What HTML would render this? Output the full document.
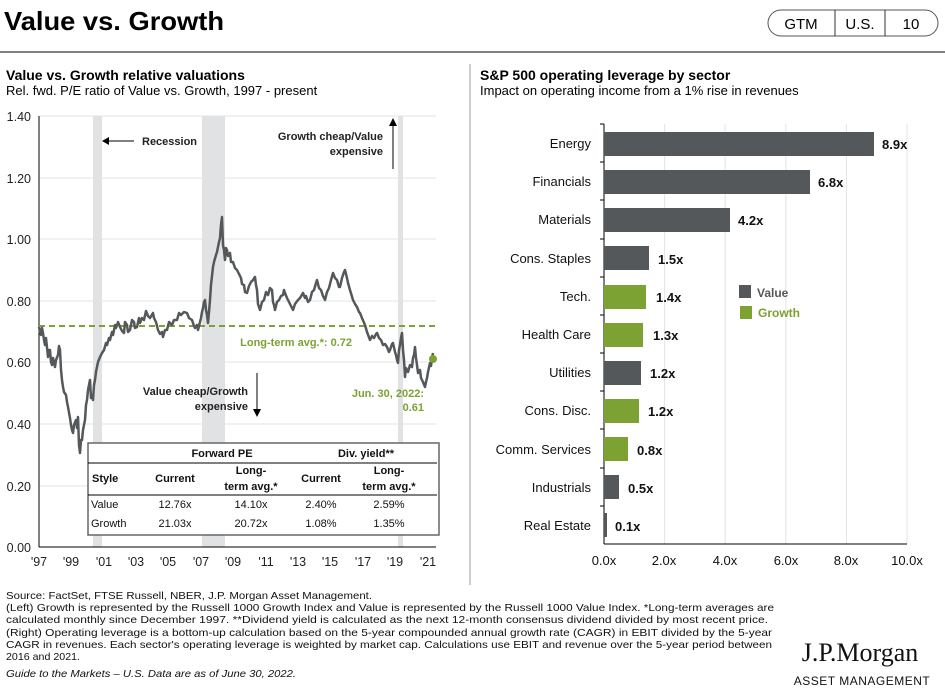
<!DOCTYPE html>
<html><head><meta charset="utf-8"><style>
body{margin:0;background:#fff;}
svg{display:block;font-family:"Liberation Sans",Arial,sans-serif;}
</style></head><body>
<svg width="945" height="692" viewBox="0 0 945 692" xmlns="http://www.w3.org/2000/svg">
<text x="4" y="30" font-size="26" font-weight="bold" fill="#000" textLength="220" lengthAdjust="spacingAndGlyphs">Value vs. Growth</text>
<rect x="768" y="10" width="170" height="26" rx="13" fill="#fff" stroke="#555" stroke-width="1"/>
<line x1="835" y1="10" x2="835" y2="36" stroke="#333"/>
<line x1="885" y1="10" x2="885" y2="36" stroke="#333"/>
<text x="801" y="29" font-size="15" text-anchor="middle">GTM</text>
<text x="860" y="29" font-size="15" text-anchor="middle">U.S.</text>
<text x="911" y="29" font-size="15" text-anchor="middle">10</text>
<line x1="0" y1="52" x2="945" y2="52" stroke="#000" stroke-width="1"/>
<line x1="470" y1="64" x2="470" y2="585" stroke="#999" stroke-width="1"/>

<!-- Left chart -->
<text x="6" y="80" font-size="14" font-weight="bold">Value vs. Growth relative valuations</text>
<text x="6" y="95" font-size="13">Rel. fwd. P/E ratio of Value vs. Growth, 1997 - present</text>
<g stroke="#e3e3e3" stroke-width="1">
<line x1="39" y1="116" x2="436" y2="116"/><line x1="39" y1="178" x2="436" y2="178"/>
<line x1="39" y1="239" x2="436" y2="239"/><line x1="39" y1="301" x2="436" y2="301"/>
<line x1="39" y1="362" x2="436" y2="362"/><line x1="39" y1="424" x2="436" y2="424"/>
<line x1="39" y1="486" x2="436" y2="486"/>
</g>
<rect x="93" y="116" width="9" height="431" fill="#e1e2e4"/>
<rect x="202" y="116" width="23" height="431" fill="#e1e2e4"/>
<rect x="398" y="116" width="5" height="431" fill="#e1e2e4"/>
<line x1="39" y1="116" x2="39" y2="547" stroke="#000"/>
<line x1="39" y1="547" x2="436" y2="547" stroke="#000"/>
<g font-size="12.5" fill="#222" text-anchor="end">
<text x="31" y="121">1.40</text><text x="31" y="183">1.20</text><text x="31" y="244">1.00</text>
<text x="31" y="306">0.80</text><text x="31" y="367">0.60</text><text x="31" y="429">0.40</text>
<text x="31" y="491">0.20</text><text x="31" y="552">0.00</text>
</g>
<g font-size="12.5" fill="#222" text-anchor="middle">
<text x="39" y="566">'97</text><text x="71" y="566">'99</text><text x="104" y="566">'01</text>
<text x="136" y="566">'03</text><text x="168" y="566">'05</text><text x="201" y="566">'07</text>
<text x="233" y="566">'09</text><text x="266" y="566">'11</text><text x="298" y="566">'13</text>
<text x="330" y="566">'15</text><text x="363" y="566">'17</text><text x="395" y="566">'19</text>
<text x="428" y="566">'21</text>
</g>
<line x1="39" y1="326" x2="436" y2="326" stroke="#7ba232" stroke-width="2" stroke-dasharray="6,4"/>
<polyline fill="none" stroke="#55585b" stroke-width="2.5" stroke-linejoin="round" points="39,327 40,332 41,335 42,328 43,333 44,340 45,345 46,338 48,357 49,350 50,350 51,362 52,365 53,358 55,367 56,360 58,355 59,346 60,350 61,370 62,380 63,387 64,392 66,395 67,402 68,407 70,418 71,425 72,430 73,433 74,425 76,420 77,428 78,417 79,445 80,453 81,440 82,440 83,430 85,420 86,405 87,400 88,390 90,380 91,398 92,395 93,400 94,385 95,380 96,372 97,367 98,362 100,357 102,353 104,350 106,343 107,345 109,338 110,340 112,332 113,335 115,325 116,328 118,322 120,327 122,331 124,333 125,322 127,325 128,332 130,330 132,320 134,322 135,328 137,327 139,318 140,323 142,318 144,320 146,311 148,316 150,318 153,313 154,318 156,322 158,330 160,334 162,332 163,337 165,330 167,330 169,322 172,325 174,320 177,320 179,313 181,315 184,312 187,313 189,318 192,320 194,326 195,328 197,325 198,330 200,322 201,318 202,312 203,308 204,302 205,300 206,310 207,315 208,323 209,312 210,300 211,285 213,267 214,262 216,255 217,252 218,247 219,242 220,238 221,225 222,217 223,245 224,250 225,260 226,248 227,250 228,256 230,253 231,262 233,262 235,268 237,270 239,274 241,278 242,284 244,285 245,292 247,293 249,286 251,282 253,280 255,277 256,285 257,290 258,304 260,310 262,302 264,300 266,292 268,295 270,288 272,290 273,302 274,305 275,310 277,302 279,300 281,296 283,295 284,290 285,293 287,298 289,302 291,306 293,310 295,304 298,300 300,298 303,293 305,298 306,296 308,302 310,300 312,292 314,290 316,283 317,280 319,288 321,290 323,296 325,300 327,292 329,288 331,280 333,273 335,278 337,280 339,287 340,287 342,278 343,275 344,272 345,270 347,278 348,283 350,290 353,300 355,304 357,307 359,312 360,313 362,318 365,325 367,332 370,340 372,336 374,338 376,334 377,333 379,338 381,340 383,345 385,344 387,347 389,352 390,350 392,344 393,343 395,352 396,355 397,360 398,363 399,350 400,345 401,338 402,333 403,350 404,360 405,377 406,368 408,372 410,365 412,367 413,358 414,355 415,347 416,358 417,365 418,373 420,370 421,378 423,382 425,387 426,382 427,378 428,372 430,363 431,366 432,358 433,353"/>
<circle cx="433" cy="359" r="4" fill="#7ba232"/>
<g font-size="11" font-weight="bold" fill="#222">
<line x1="105" y1="141" x2="134" y2="141" stroke="#000"/>
<polygon points="102,141 109,137 109,145" fill="#000"/>
<text x="142" y="145">Recession</text>
<text x="383" y="140" text-anchor="end">Growth cheap/Value</text>
<text x="383" y="155" text-anchor="end">expensive</text>
<line x1="393" y1="122" x2="393" y2="169" stroke="#000"/>
<polygon points="393,118 389,126 397,126" fill="#000"/>
<text x="248" y="395" text-anchor="end">Value cheap/Growth</text>
<text x="248" y="410" text-anchor="end">expensive</text>
<line x1="257" y1="373" x2="257" y2="411" stroke="#000"/>
<polygon points="257,417 253,409 261,409" fill="#000"/>
<text x="352" y="346" text-anchor="end" fill="#7ba232">Long-term avg.*: 0.72</text>
<text x="424" y="397" text-anchor="end" fill="#7ba232">Jun. 30, 2022:</text>
<text x="424" y="411" text-anchor="end" fill="#7ba232">0.61</text>
</g>
<rect x="88" y="443" width="351" height="92" fill="#fff" stroke="#666" stroke-width="1.5"/>
<line x1="88" y1="463" x2="437" y2="463" stroke="#000"/>
<line x1="88" y1="495" x2="437" y2="495" stroke="#000"/>
<g font-size="11" fill="#111">
<text x="222" y="457" text-anchor="middle" font-weight="bold">Forward PE</text>
<text x="366" y="457" text-anchor="middle" font-weight="bold">Div. yield**</text>
<g font-weight="bold">
<text x="92" y="482">Style</text>
<text x="175" y="482" text-anchor="middle">Current</text>
<text x="251" y="474" text-anchor="middle">Long-</text>
<text x="251" y="490" text-anchor="middle">term avg.*</text>
<text x="321" y="482" text-anchor="middle">Current</text>
<text x="389" y="474" text-anchor="middle">Long-</text>
<text x="389" y="490" text-anchor="middle">term avg.*</text>
</g>
<text x="91" y="508">Value</text><text x="175" y="508" text-anchor="middle">12.76x</text>
<text x="251" y="508" text-anchor="middle">14.10x</text><text x="321" y="508" text-anchor="middle">2.40%</text>
<text x="389" y="508" text-anchor="middle">2.59%</text>
<text x="91" y="527">Growth</text><text x="175" y="527" text-anchor="middle">21.03x</text>
<text x="251" y="527" text-anchor="middle">20.72x</text><text x="321" y="527" text-anchor="middle">1.08%</text>
<text x="389" y="527" text-anchor="middle">1.35%</text>
</g>

<!-- Right chart -->
<text x="480" y="80" font-size="14" font-weight="bold">S&amp;P 500 operating leverage by sector</text>
<text x="480" y="95" font-size="13">Impact on operating income from a 1% rise in revenues</text>
<g stroke="#e3e3e3">
<line x1="664.6" y1="124" x2="664.6" y2="544"/><line x1="725.2" y1="124" x2="725.2" y2="544"/>
<line x1="785.8" y1="124" x2="785.8" y2="544"/><line x1="846.4" y1="124" x2="846.4" y2="544"/>
<line x1="907" y1="124" x2="907" y2="544"/>
</g>
<line x1="604" y1="124" x2="604" y2="544" stroke="#000"/>
<line x1="604" y1="544" x2="907" y2="544" stroke="#000"/>
<g stroke="#000">
<line x1="600" y1="124" x2="604" y2="124"/><line x1="600" y1="162" x2="604" y2="162"/>
<line x1="600" y1="200" x2="604" y2="200"/><line x1="600" y1="239" x2="604" y2="239"/>
<line x1="600" y1="277" x2="604" y2="277"/><line x1="600" y1="315" x2="604" y2="315"/>
<line x1="600" y1="353" x2="604" y2="353"/><line x1="600" y1="391" x2="604" y2="391"/>
<line x1="600" y1="429" x2="604" y2="429"/><line x1="600" y1="468" x2="604" y2="468"/>
<line x1="600" y1="506" x2="604" y2="506"/>
</g>
<g>
<rect x="604" y="132" width="270" height="24" fill="#55585b"/>
<rect x="604" y="170" width="206" height="24" fill="#55585b"/>
<rect x="604" y="208" width="126" height="24" fill="#55585b"/>
<rect x="604" y="246" width="45" height="24" fill="#55585b"/>
<rect x="604" y="285" width="42" height="24" fill="#7ba232"/>
<rect x="604" y="323" width="39" height="24" fill="#7ba232"/>
<rect x="604" y="361" width="37" height="24" fill="#55585b"/>
<rect x="604" y="399" width="35" height="24" fill="#7ba232"/>
<rect x="604" y="437" width="24" height="24" fill="#7ba232"/>
<rect x="604" y="475" width="15" height="24" fill="#55585b"/>
<rect x="604" y="513" width="3" height="24" fill="#55585b"/>
</g>
<g font-size="13" fill="#111" text-anchor="end">
<text x="591" y="148">Energy</text><text x="591" y="186">Financials</text>
<text x="591" y="224">Materials</text><text x="591" y="263">Cons. Staples</text>
<text x="591" y="301">Tech.</text><text x="591" y="339">Health Care</text>
<text x="591" y="377">Utilities</text><text x="591" y="415">Cons. Disc.</text>
<text x="591" y="454">Comm. Services</text><text x="591" y="492">Industrials</text>
<text x="591" y="530">Real Estate</text>
</g>
<g font-size="13" font-weight="bold" fill="#111">
<text x="882" y="149">8.9x</text><text x="818" y="187">6.8x</text>
<text x="738" y="225">4.2x</text><text x="658" y="264">1.5x</text>
<text x="656" y="302">1.4x</text><text x="653" y="340">1.3x</text>
<text x="650" y="378">1.2x</text><text x="648" y="416">1.2x</text>
<text x="637" y="455">0.8x</text><text x="628" y="493">0.5x</text>
<text x="615" y="531">0.1x</text>
</g>
<rect x="739" y="285" width="12" height="13" fill="#55585b"/>
<text x="757" y="297" font-size="12" font-weight="bold" fill="#55585b">Value</text>
<rect x="740" y="306" width="12" height="13" fill="#7ba232"/>
<text x="758" y="317" font-size="12" font-weight="bold" fill="#7ba232">Growth</text>
<g font-size="13" fill="#111" text-anchor="middle">
<text x="604" y="565">0.0x</text><text x="664" y="565">2.0x</text><text x="725" y="565">4.0x</text>
<text x="786" y="565">6.0x</text><text x="846" y="565">8.0x</text><text x="907" y="565">10.0x</text>
</g>

<!-- Footer -->
<g font-size="10.5" fill="#111">
<text x="6" y="599" textLength="366" lengthAdjust="spacingAndGlyphs">Source: FactSet, FTSE Russell, NBER, J.P. Morgan Asset Management.</text>
<text x="6" y="611" textLength="768" lengthAdjust="spacingAndGlyphs">(Left) Growth is represented by the Russell 1000 Growth Index and Value is represented by the Russell 1000 Value Index. *Long-term averages are</text>
<text x="6" y="623" textLength="762" lengthAdjust="spacingAndGlyphs">calculated monthly since December 1997. **Dividend yield is calculated as the next 12-month consensus dividend divided by most recent price.</text>
<text x="6" y="636" textLength="766" lengthAdjust="spacingAndGlyphs">(Right) Operating leverage is a bottom-up calculation based on the 5-year compounded annual growth rate (CAGR) in EBIT divided by the 5-year</text>
<text x="6" y="648" textLength="766" lengthAdjust="spacingAndGlyphs">CAGR in revenues. Each sector's operating leverage is weighted by market cap. Calculations use EBIT and revenue over the 5-year period between</text>
<text x="6" y="660" textLength="74" lengthAdjust="spacingAndGlyphs">2016  and 2021.</text>
<text x="6" y="677" font-style="italic" textLength="290" lengthAdjust="spacingAndGlyphs">Guide to the Markets – U.S. Data are as of June 30, 2022.</text>
</g>
<text x="860" y="661" font-size="26" font-family="Liberation Serif,serif" text-anchor="middle" fill="#111">J.P.Morgan</text>
<text x="862" y="685" font-size="12" text-anchor="middle" fill="#111" letter-spacing="0.5">ASSET MANAGEMENT</text>
</svg>
</body></html>
